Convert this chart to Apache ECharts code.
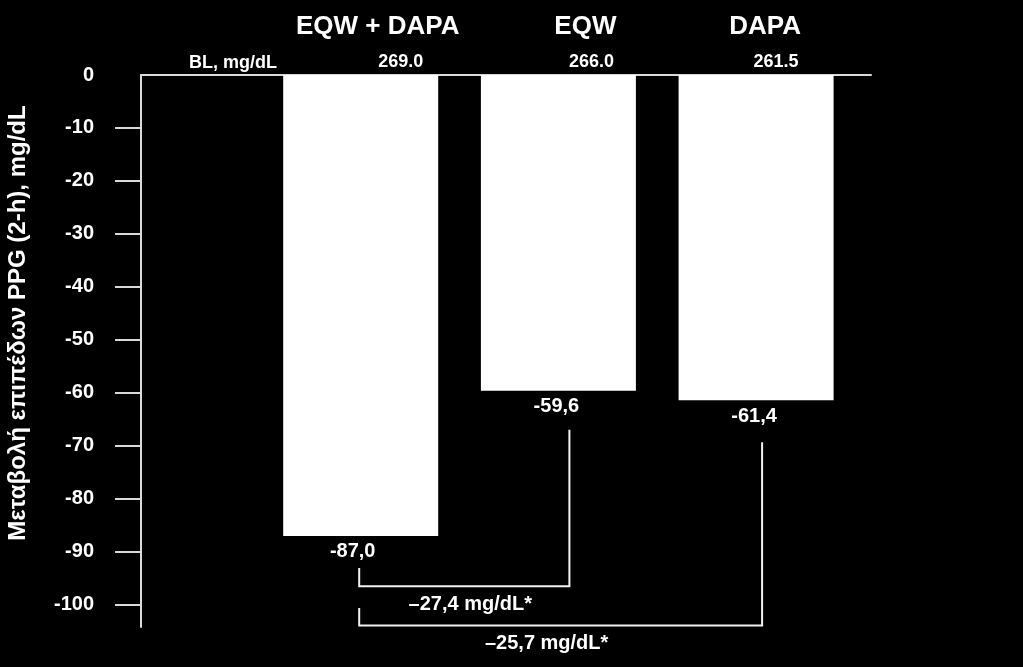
<!DOCTYPE html>
<html><head><meta charset="utf-8">
<script src="https://cdn.jsdelivr.net/npm/echarts@6/dist/echarts.min.js"></script>
<style>html,body{margin:0;padding:0;background:#000;}#c{width:1023px;height:667px;}</style>
</head><body><div id="c"></div>
<script>
// ---- data ----
const categories = ['EQW + DAPA', 'EQW', 'DAPA'];
const changeValues = [-87.0, -59.6, -61.4];
const changeLabels = ['-87,0', '-59,6', '-61,4'];
const baselineTitle = 'BL, mg/dL';
const baselineLabels = ['269.0', '266.0', '261.5'];
const yLabelValues = [0, -10, -20, -30, -40, -50, -60, -70, -80, -90, -100];
const yTickValues = [-10, -20, -30, -40, -50, -60, -70, -80, -90, -100];
const yAxisTitle = 'Μεταβολή επιπέδων PPG (2-h), mg/dL';
const comparisons = [[0, 1], [0, 2]];
const comparisonLabels = ['–27,4 mg/dL*', '–25,7 mg/dL*'];

// ---- style ----
const FONT = '"Liberation Sans", Arial, Helvetica, sans-serif';
const AXIS_COLOR = '#d9d9d9';
const Y_MIN = -104.2, Y_MAX = 0;
const titleNudge = [17, 27, 9];
const blNudge = [40, 33, 20];
const valueLabelNudge = [-8, -2, -2];
const bracketGeom = [
  {dl: -1.5, dr: 11, gapL: 32, gapR: 39, level: -96.5, textDx: 6, textDy: 18},
  {dl: -1.5, dr: 6, gapL: 72, gapR: 42, level: -103.9, textDx: -14, textDy: 18}
];

const chart = echarts.init(document.getElementById('c'), null, {renderer: 'canvas'});
const option = {
  backgroundColor: '#000',
  animation: false,
  grid: [
    {left: 141, right: 152, top: 75, bottom: 40, containLabel: false, outerBoundsMode: 'none'},
    {left: 261.85, width: 593.1, top: 75, bottom: 40, containLabel: false, outerBoundsMode: 'none'}
  ],
  xAxis: [
    {gridIndex: 0, type: 'category', data: [''], position: 'top',
     axisLine: {show: true, onZero: false, lineStyle: {color: AXIS_COLOR, width: 2}},
     axisTick: {show: false}, axisLabel: {show: false}, splitLine: {show: false}},
    {gridIndex: 1, type: 'category', data: categories, show: false}
  ],
  yAxis: [
    {gridIndex: 0, type: 'value', min: Y_MIN, max: Y_MAX,
     axisLine: {show: true, lineStyle: {color: AXIS_COLOR, width: 2}},
     axisTick: {show: true, length: 26, inside: false, customValues: yTickValues,
                lineStyle: {color: AXIS_COLOR, width: 2}},
     axisLabel: {show: true, customValues: yLabelValues, margin: 47, color: '#fff',
                 fontSize: 20, fontWeight: 'bold', fontFamily: FONT},
     splitLine: {show: false}},
    {gridIndex: 1, type: 'value', min: Y_MIN, max: Y_MAX, show: false, splitLine: {show: false}}
  ],
  series: [
    {
      type: 'bar', xAxisIndex: 1, yAxisIndex: 1, barWidth: 155, silent: true,
      itemStyle: {color: '#fff'},
      data: changeValues.map((v, i) => ({
        value: v,
        label: {offset: [valueLabelNudge[i], 0]}
      })),
      label: {
        show: true, position: 'bottom', distance: 6, color: '#fff',
        fontSize: 20, fontWeight: 'bold', fontFamily: FONT,
        formatter: p => changeLabels[p.dataIndex]
      }
    },
    {
      type: 'custom', xAxisIndex: 1, yAxisIndex: 1, silent: true, clip: false,
      data: categories.map((c, i) => [i, 0]),
      renderItem: (params, api) => {
        const i = params.dataIndex;
        const x = api.coord([api.value(0), 0])[0];
        return {
          type: 'group',
          children: [
            {type: 'text', style: {text: categories[i], x: x + titleNudge[i], y: 26.5,
              fill: '#fff', font: 'bold 26px ' + FONT, align: 'center', verticalAlign: 'middle'}},
            {type: 'text', style: {text: baselineLabels[i], x: x + blNudge[i], y: 62.5,
              fill: '#fff', font: 'bold 18px ' + FONT, align: 'center', verticalAlign: 'middle'}}
          ]
        };
      }
    },
    {
      type: 'custom', xAxisIndex: 1, yAxisIndex: 1, silent: true, clip: false,
      data: comparisons,
      renderItem: (params, api) => {
        const i = params.dataIndex;
        const a = comparisons[i][0], b = comparisons[i][1];
        const g = bracketGeom[i];
        const pa = api.coord([a, changeValues[a]]);
        const pb = api.coord([b, changeValues[b]]);
        const yl = api.coord([a, g.level])[1];
        const xl = pa[0] + g.dl, xr = pb[0] + g.dr;
        return {
          type: 'group',
          children: [
            {type: 'polyline', shape: {points: [[xl, pa[1] + g.gapL], [xl, yl], [xr, yl], [xr, pb[1] + g.gapR]]},
             style: {stroke: '#f2f2f2', lineWidth: 2, fill: null}},
            {type: 'text', style: {text: comparisonLabels[i], x: (xl + xr) / 2 + g.textDx, y: yl + g.textDy,
              fill: '#fff', font: 'bold 20px ' + FONT, align: 'center', verticalAlign: 'middle'}}
          ]
        };
      }
    }
  ],
  graphic: [
    {type: 'text', x: 233, y: 63, silent: true,
     style: {text: baselineTitle, fill: '#fff', font: 'bold 18px ' + FONT, align: 'center', verticalAlign: 'middle'}},
    {type: 'text', x: 18, y: 323, rotation: Math.PI / 2, silent: true,
     style: {text: yAxisTitle, fill: '#fff', font: 'bold 24px ' + FONT, align: 'center', verticalAlign: 'middle'}}
  ]
};
chart.setOption(option);
</script>
</body></html>
